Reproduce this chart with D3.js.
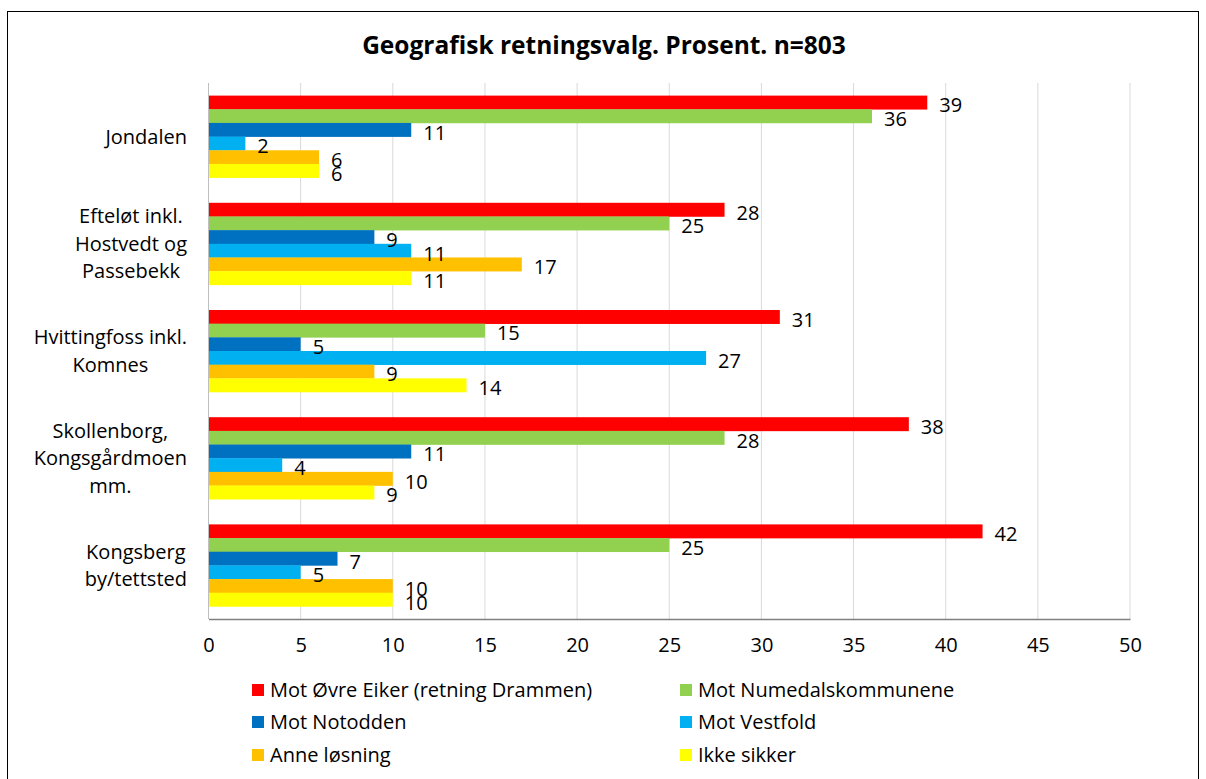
<!DOCTYPE html>
<html>
<head>
<meta charset="utf-8">
<script src="https://cdn.jsdelivr.net/npm/d3@7"></script>
<style>
  body { margin: 0; background: #fff; }
  svg { font-family: "Open Sans", "Noto Sans", sans-serif; }
</style>
</head>
<body>
<svg id="chart" width="1206" height="779"></svg>
<script>
// categories (each label split in lines)
const categories = [
  ['Jondalen'],
  ['Efteløt inkl.', 'Hostvedt og', 'Passebekk'],
  ['Hvittingfoss inkl.', 'Komnes'],
  ['Skollenborg,', 'Kongsgårdmoen', 'mm.'],
  ['Kongsberg', 'by/tettsted']
]
const seriesNames = [
  'Mot Øvre Eiker (retning Drammen)',
  'Mot Numedalskommunene',
  'Mot Notodden',
  'Mot Vestfold',
  'Anne løsning',
  'Ikke sikker'
]
const seriesColors = ['#ff0000', '#92d050', '#0070c0', '#00b0f0', '#ffc000', '#ffff00']

// values per series, in category order
const oevreEiker = [39, 28, 31, 38, 42]
const numedal = [36, 25, 15, 28, 25]
const notodden = [11, 9, 5, 11, 7]
const vestfold = [2, 11, 27, 4, 5]
const anne = [6, 17, 9, 10, 10]
const ikkeSikker = [6, 11, 14, 9, 10]
const seriesValues = [oevreEiker, numedal, notodden, vestfold, anne, ikkeSikker]

const xTicks = [0, 5, 10, 15, 20, 25, 30, 35, 40, 45, 50]

const svg = d3.select('#chart')
const margin = { top: 83, left: 208.5 }
const innerWidth = 1130 - margin.left
const innerHeight = 619 - margin.top
const fontSize = 20

// outer border
svg.append('rect')
  .attr('x', 7.5).attr('y', 11.5)
  .attr('width', 1191).attr('height', 780)
  .attr('fill', 'none')
  .attr('stroke', '#000')
  .attr('stroke-width', 1)

svg.append('text')
  .attr('x', 604)
  .attr('y', 54)
  .attr('text-anchor', 'middle')
  .attr('font-size', 24.5)
  .attr('font-weight', 'bold')
  .attr('fill', '#000')
  .text('Geografisk retningsvalg. Prosent. n=803')

const g = svg.append('g')
  .attr('transform', `translate(${margin.left},${margin.top})`)

const xScale = d3.scaleLinear().domain([0, 50]).range([0, innerWidth])
const yScale = d3.scaleBand()
  .domain(d3.range(categories.length))
  .range([0, innerHeight])
  .paddingInner(0.235)
  .paddingOuter(0.1175)
const ySub = d3.scaleBand()
  .domain(d3.range(seriesNames.length))
  .range([0, yScale.bandwidth()])

// gridlines
g.append('g')
  .selectAll('line').data(xTicks.slice(1))
  .enter().append('line')
  .attr('x1', d => xScale(d)).attr('x2', d => xScale(d))
  .attr('y1', 0).attr('y2', innerHeight)
  .attr('stroke', '#d9d9d9')
  .attr('stroke-width', 1)

// bars
const groups = g.selectAll('.cat').data(categories)
  .enter().append('g')
  .attr('transform', (d, i) => `translate(0,${yScale(i)})`)

groups.each(function(cat, ci) {
  const grp = d3.select(this)
  const rows = seriesValues.map((vals, si) => ({ si: si, v: vals[ci] }))
  grp.selectAll('rect').data(rows)
    .enter().append('rect')
    .attr('x', 0)
    .attr('y', d => ySub(d.si))
    .attr('width', d => xScale(d.v))
    .attr('height', ySub.bandwidth() + 0.3)
    .attr('fill', d => seriesColors[d.si])
  grp.selectAll('text').data(rows)
    .enter().append('text')
    .attr('x', d => xScale(d.v) + 12)
    .attr('y', d => ySub(d.si) + ySub.bandwidth() / 2 + 10)
    .attr('font-size', fontSize)
    .attr('fill', '#000')
    .text(d => d.v)
})

// left axis line
g.append('line')
  .attr('x1', 0).attr('x2', 0)
  .attr('y1', 0).attr('y2', innerHeight)
  .attr('stroke', '#bfbfbf')

// x axis
const xAxisG = g.append('g')
  .attr('transform', `translate(0,${innerHeight})`)
  .call(d3.axisBottom(xScale).tickValues(xTicks).tickSize(0).tickPadding(19))
xAxisG.select('.domain').attr('stroke', '#808080').attr('stroke-width', 1.3)
xAxisG.selectAll('.tick text')
  .attr('font-size', fontSize)
  .attr('font-family', '"Open Sans", "Noto Sans", sans-serif')
  .attr('fill', '#000')

// category labels: centered block, right edge at x=187
const lineH = 27.5
categories.forEach((lines, i) => {
  const cy = margin.top + yScale(i) + yScale.bandwidth() / 2
  const t = svg.append('text')
    .attr('font-size', fontSize)
    .attr('fill', '#000')
    .attr('text-anchor', 'middle')
  lines.forEach((ln, j) => {
    t.append('tspan')
      .attr('y', cy + (j - (lines.length - 1) / 2) * lineH + 7)
      .text(ln)
  })
  let maxW = 0
  t.selectAll('tspan').each(function() {
    maxW = Math.max(maxW, this.getComputedTextLength())
  })
  t.selectAll('tspan').attr('x', 187 - maxW / 2)
})

// legend
const legendCols = [252, 680]
const legendRows = [690, 722, 755]
seriesNames.forEach((name, i) => {
  const lx = legendCols[i % 2]
  const ly = legendRows[Math.floor(i / 2)]
  svg.append('rect')
    .attr('x', lx).attr('y', ly - 6)
    .attr('width', 12).attr('height', 12)
    .attr('fill', seriesColors[i])
  svg.append('text')
    .attr('x', lx + 18)
    .attr('y', ly + 7)
    .attr('font-size', fontSize)
    .attr('fill', '#000')
    .text(name)
})
</script>
</body>
</html>
